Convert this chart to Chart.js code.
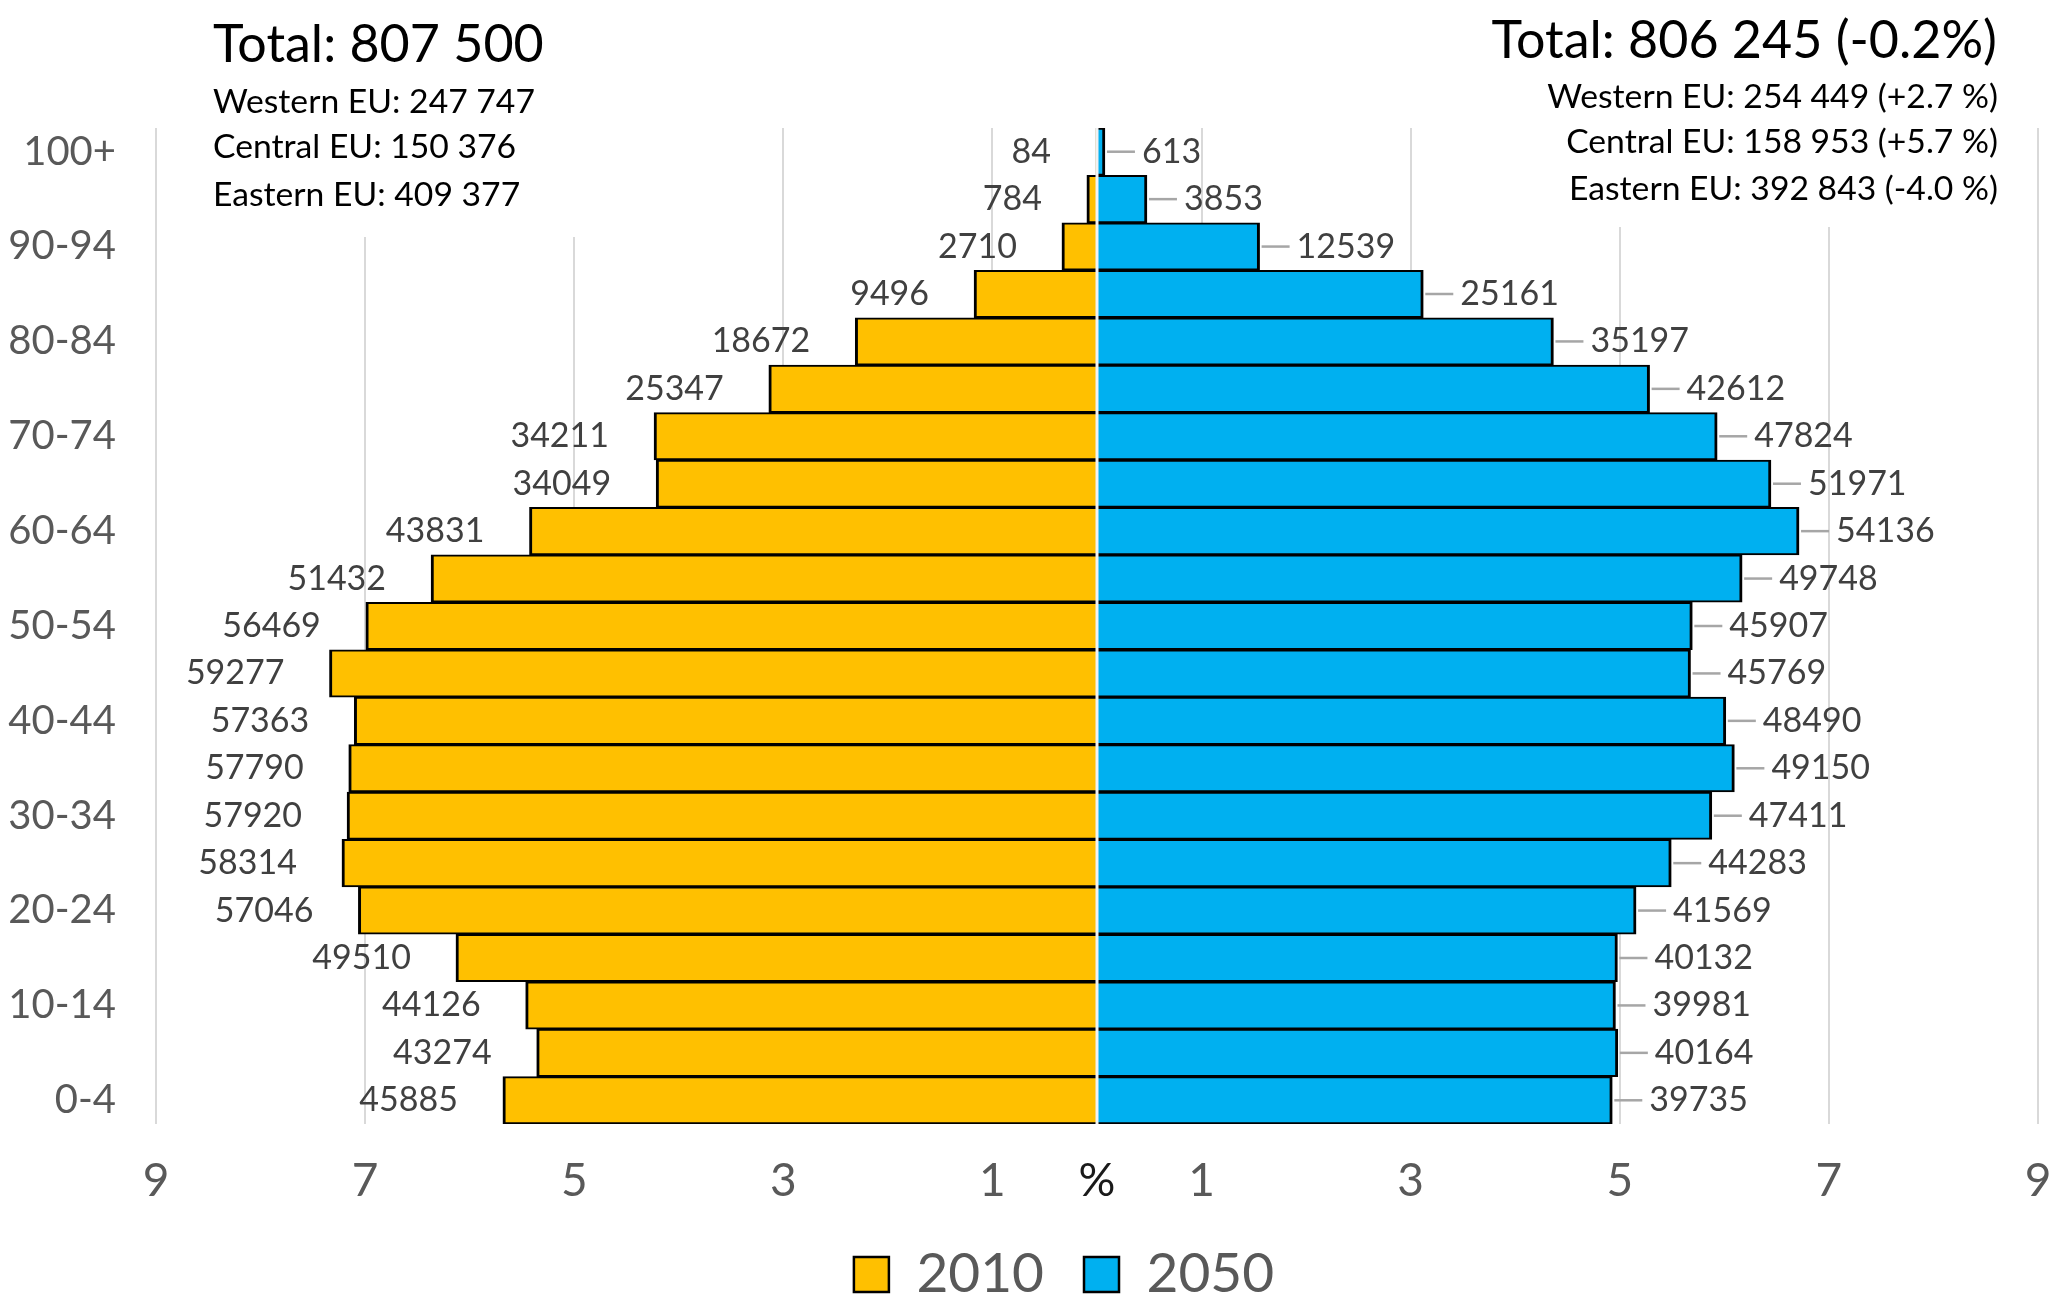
<!DOCTYPE html>
<html>
<head>
<meta charset="utf-8">
<script src="https://cdn.jsdelivr.net/npm/chart.js@4/dist/chart.umd.min.js"></script>
<style>
  html, body { margin: 0; padding: 0; background: #ffffff; }
  #wrap { width: 2067px; height: 1313px; }
</style>
</head>
<body>
<div id="wrap"><canvas id="c" width="2067" height="1313"></canvas></div>
<script>
// ---- Data ----
const categories = ['0-4','5-9','10-14','15-19','20-24','25-29','30-34','35-39','40-44','45-49',
                    '50-54','55-59','60-64','65-69','70-74','75-79','80-84','85-89','90-94','95-99','100+'];
const pop2010 = [45885,43274,44126,49510,57046,58314,57920,57790,57363,59277,
                 56469,51432,43831,34049,34211,25347,18672,9496,2710,784,84];
const pop2050 = [39735,40164,39981,40132,41569,44283,47411,49150,48490,45769,
                 45907,49748,54136,51971,47824,42612,35197,25161,12539,3853,613];
const total2010 = 807500;
const total2050 = 806245;
const seriesNames = ['2010', '2050'];
const xTickValues = [-9,-7,-5,-3,-1,0,1,3,5,7,9];
const summaryLeftTitle = 'Total: 807 500';
const summaryLeft = ['Western EU: 247 747', 'Central EU: 150 376', 'Eastern EU: 409 377'];
const summaryRightTitle = 'Total: 806 245 (-0.2%)';
const summaryRight = ['Western EU: 254 449 (+2.7 %)', 'Central EU: 158 953 (+5.7 %)', 'Eastern EU: 392 843 (-4.0 %)'];

const FONT = 'Lato';

// Percent shares (2010 drawn to the left as negative)
const share2010 = pop2010.map(v => -v / total2010 * 100);
const share2050 = pop2050.map(v => v / total2050 * 100);

const valueLabels = {
  id: 'valueLabels',
  afterDatasetsDraw(chart) {
    const ctx = chart.ctx;
    const xs = chart.scales.x;
    const area = chart.chartArea;
    // white centre axis line over the bars
    const x0 = xs.getPixelForValue(0);
    ctx.save();
    ctx.strokeStyle = '#f2f2f2';
    ctx.lineWidth = 3;
    ctx.beginPath();
    ctx.moveTo(x0, area.top);
    ctx.lineTo(x0, area.bottom);
    ctx.stroke();

    ctx.font = '34px ' + FONT;
    ctx.textBaseline = 'middle';
    const counts = [pop2010, pop2050];
    chart.data.datasets.forEach((ds, di) => {
      const meta = chart.getDatasetMeta(di);
      meta.data.forEach((bar, i) => {
        const p = bar.getProps(['x', 'y'], true);
        const txt = String(counts[di][i]);
        if (di === 0) {
          ctx.textAlign = 'right';
          ctx.fillStyle = '#404040';
          ctx.fillText(txt, p.x - 45, p.y);
        } else {
          ctx.strokeStyle = '#a6a6a6';
          ctx.lineWidth = 2.5;
          ctx.beginPath();
          ctx.moveTo(p.x + 2, p.y);
          ctx.lineTo(p.x + 30, p.y);
          ctx.stroke();
          ctx.textAlign = 'left';
          ctx.fillStyle = '#404040';
          ctx.fillText(txt, p.x + 37, p.y);
        }
      });
    });
    ctx.restore();
  }
};

const headerText = {
  id: 'headerText',
  beforeDatasetsDraw(chart) {
    const ctx = chart.ctx;
    ctx.save();
    // text boxes hide the grid tops behind them
    ctx.fillStyle = '#ffffff';
    ctx.fillRect(195, 0, 515, 237);
    ctx.fillRect(1530, 0, 500, 227);
    ctx.fillStyle = '#000000';
    ctx.textBaseline = 'alphabetic';
    ctx.textAlign = 'left';
    ctx.font = '52px ' + FONT;
    ctx.fillText(summaryLeftTitle, 213, 62);
    ctx.font = '33.7px ' + FONT;
    const lb = [113, 158, 206];
    summaryLeft.forEach((t, i) => ctx.fillText(t, 213, lb[i]));
    ctx.textAlign = 'right';
    ctx.font = '52px ' + FONT;
    ctx.fillText(summaryRightTitle, 1997, 58);
    ctx.font = '33.7px ' + FONT;
    const rb = [108, 153, 200];
    summaryRight.forEach((t, i) => ctx.fillText(t, 1998, rb[i]));
    ctx.restore();
  }
};

// nudge the legend row to sit under the plot like the reference
const legendShift = {
  id: 'legendShift',
  afterLayout(chart) {
    const lg = chart.legend;
    if (lg) { lg.left += 45; lg.right += 45; }
  }
};

new Chart(document.getElementById('c'), {
  type: 'bar',
  data: {
    labels: categories,
    datasets: [
      {
        label: seriesNames[0],
        data: share2010,
        backgroundColor: '#FFC000',
        borderColor: '#000000',
        borderWidth: { top: 2, bottom: 2, left: 3, right: 3 },
        borderSkipped: 'start',
        barPercentage: 1,
        categoryPercentage: 1
      },
      {
        label: seriesNames[1],
        data: share2050,
        backgroundColor: '#00B0F0',
        borderColor: '#000000',
        borderWidth: { top: 2, bottom: 2, left: 3, right: 3 },
        borderSkipped: 'start',
        barPercentage: 1,
        categoryPercentage: 1
      }
    ]
  },
  options: {
    indexAxis: 'y',
    responsive: false,
    devicePixelRatio: 1,
    animation: false,
    events: [],
    layout: { padding: { top: 128, right: 29, bottom: 1, left: 0 } },
    scales: {
      y: {
        type: 'category',
        reverse: true,
        stacked: true,
        grid: { display: false, drawTicks: false },
        border: { display: false },
        ticks: {
          autoSkip: false,
          padding: 40,
          color: '#595959',
          font: { family: FONT, size: 40 },
          callback: function (v, i) { return i % 2 === 0 ? this.getLabelForValue(v) : ''; }
        },
        afterFit(s) { s.width = 156; s.paddingTop = 0; s.paddingBottom = 0; }
      },
      x: {
        type: 'linear',
        min: -9,
        max: 9,
        stacked: true,
        afterBuildTicks(s) { s.ticks = xTickValues.map(v => ({ value: v })); },
        grid: {
          color: c => (c.tick && c.tick.value === 0) ? 'rgba(0,0,0,0)' : '#d9d9d9',
          lineWidth: 2,
          drawTicks: false
        },
        border: { display: false },
        ticks: {
          padding: 30,
          color: c => (c.tick && c.tick.value === 0) ? '#1a1a1a' : '#595959',
          font: { family: FONT, size: 46 },
          callback: v => v === 0 ? '%' : String(Math.abs(v))
        },
        afterFit(s) { s.height = 83; s.paddingLeft = 0; s.paddingRight = 0; }
      }
    },
    plugins: {
      legend: {
        position: 'bottom',
        labels: {
          boxWidth: 35,
          boxHeight: 35,
          padding: 40,
          color: '#595959',
          font: { family: FONT, size: 55 }
        }
      },
      tooltip: { enabled: false }
    }
  },
  plugins: [headerText, valueLabels, legendShift]
});
</script>
</body>
</html>
